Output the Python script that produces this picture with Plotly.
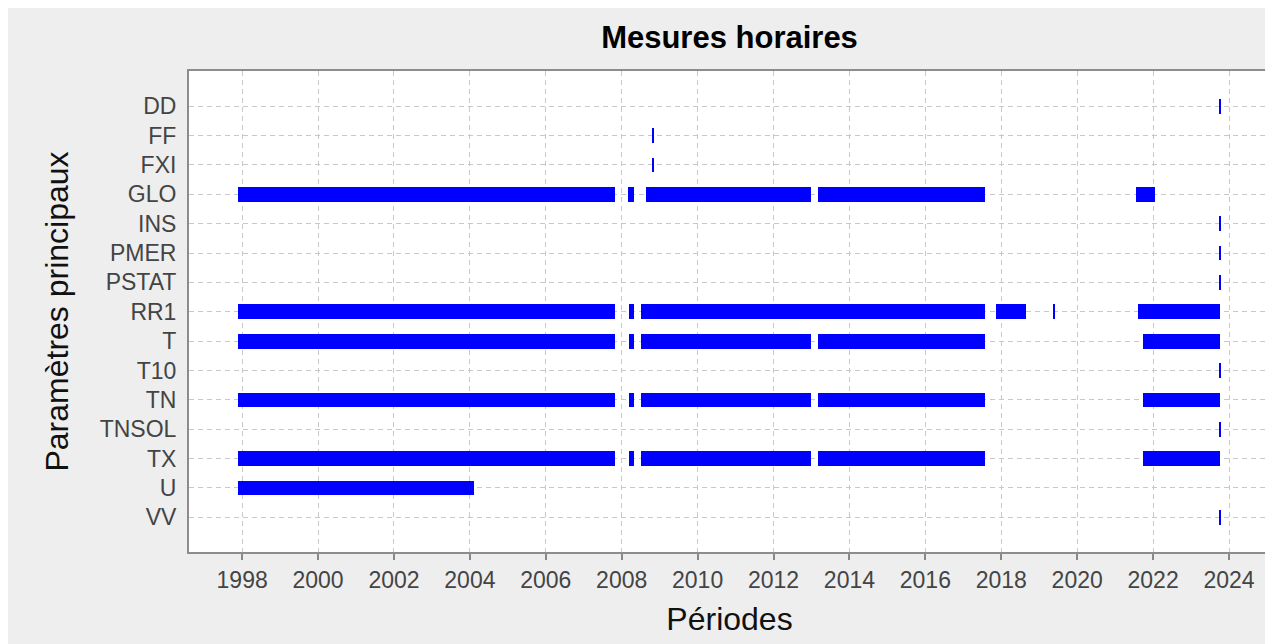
import plotly.graph_objects as go

# Parameters (categories, top to bottom)
params = ["DD", "FF", "FXI", "GLO", "INS", "PMER", "PSTAT", "RR1", "T", "T10",
          "TN", "TNSOL", "TX", "U", "VV"]

# Measurement periods (decimal years): parameter, start, end
seg_param = [
    "DD", "FF", "FXI",
    "GLO", "GLO", "GLO", "GLO", "GLO",
    "INS", "PMER", "PSTAT",
    "RR1", "RR1", "RR1", "RR1", "RR1", "RR1",
    "T", "T", "T", "T", "T",
    "T10",
    "TN", "TN", "TN", "TN", "TN",
    "TNSOL",
    "TX", "TX", "TX", "TX", "TX",
    "U", "VV",
]
seg_start = [
    2023.755, 2008.805, 2008.805,
    1997.89, 2008.17, 2008.64, 2013.16, 2021.56,
    2023.755, 2023.755, 2023.755,
    1997.89, 2008.20, 2008.51, 2017.87, 2019.365, 2021.59,
    1997.89, 2008.20, 2008.51, 2013.16, 2021.74,
    2023.755,
    1997.89, 2008.20, 2008.51, 2013.16, 2021.74,
    2023.755,
    1997.89, 2008.20, 2008.51, 2013.16, 2021.74,
    1997.89, 2023.755,
]
seg_end = [
    2023.785, 2008.835, 2008.835,
    2007.83, 2008.33, 2012.98, 2017.58, 2022.06,
    2023.785, 2023.785, 2023.785,
    2007.83, 2008.33, 2017.56, 2018.66, 2019.395, 2023.77,
    2007.83, 2008.33, 2012.98, 2017.56, 2023.77,
    2023.785,
    2007.83, 2008.33, 2012.98, 2017.56, 2023.77,
    2023.785,
    2007.83, 2008.33, 2012.98, 2017.56, 2023.77,
    2004.12, 2023.785,
]

x_ticks = list(range(1998, 2025, 2))

durations = [e - s for s, e in zip(seg_start, seg_end)]

FONT = "Liberation Sans, Arial, sans-serif"

fig = go.Figure(
    go.Bar(
        orientation="h",
        y=seg_param,
        x=durations,
        base=seg_start,
        width=0.5,
        marker=dict(color="#0000ff", line=dict(width=0)),
        hoverinfo="skip",
        showlegend=False,
    )
)

fig.update_layout(
    width=1273,
    height=644,
    paper_bgcolor="#eeeeee",
    plot_bgcolor="#ffffff",
    margin=dict(l=181, r=9, t=63, b=100),
    font=dict(family=FONT, color="#444444"),
    title=dict(
        text="<b>Mesures horaires</b>",
        x=0.5,
        xref="paper",
        y=0.955,
        yref="container",
        yanchor="middle",
        font=dict(size=31, color="#000000", family=FONT),
    ),
    bargap=0,
)

fig.update_xaxes(
    range=[1996.60, 2025.08],
    tickmode="array",
    tickvals=x_ticks,
    ticktext=[str(v) for v in x_ticks],
    tickfont=dict(size=23, color="#444444"),
    ticks="outside",
    ticklen=6,
    tickwidth=2,
    tickcolor="#888888",
    showgrid=True,
    gridcolor="#c8c8c8",
    gridwidth=1,
    griddash="5px,4px",
    showline=True,
    linecolor="#8c8c8c",
    linewidth=2,
    mirror=True,
    zeroline=False,
    title=dict(text="Périodes", font=dict(size=32, color="#111111"), standoff=16),
)

fig.update_yaxes(
    type="category",
    categoryorder="array",
    categoryarray=params,
    range=[15.18, -1.20],
    tickfont=dict(size=23, color="#444444"),
    ticks="",
    ticklabelstandoff=6,
    showgrid=True,
    gridcolor="#c8c8c8",
    gridwidth=1,
    griddash="5px,4px",
    showline=True,
    linecolor="#8c8c8c",
    linewidth=2,
    mirror=True,
    zeroline=False,
    title=dict(text="Paramètres principaux", font=dict(size=32, color="#111111"), standoff=22),
)

fig.write_html("out.html")
